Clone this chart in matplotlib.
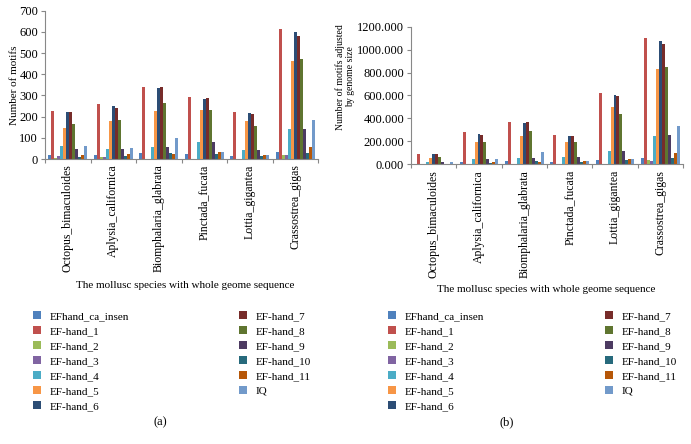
import matplotlib
matplotlib.use("Agg")
import matplotlib.pyplot as plt
from matplotlib.patches import Patch
import numpy as np

plt.rcParams['font.family'] = ['Liberation Serif', 'DejaVu Serif']

species = ["Octopus_bimaculoides", "Aplysia_californica", "Biomphalaria_glabrata",
           "Pinctada_fucata", "Lottia_gigantea", "Crassostrea_gigas"]
motifs = ["EFhand_ca_insen", "EF-hand_1", "EF-hand_2", "EF-hand_3", "EF-hand_4",
          "EF-hand_5", "EF-hand_6", "EF-hand_7", "EF-hand_8", "EF-hand_9",
          "EF-hand_10", "EF-hand_11", "IQ"]
colors = ["#4F81BD", "#C0504D", "#9BBB59", "#8064A2", "#4BACC6", "#F79646",
          "#2C4D75", "#772C2A", "#5F7530", "#4D3B62", "#276A7C", "#B65708", "#729ACA"]

# counts per motif, one value per species (panel a)
counts = {
    "EFhand_ca_insen": [20, 18, 30, 22, 12, 32],
    "EF-hand_1": [225, 258, 342, 292, 222, 612],
    "EF-hand_2": [5, 8, 2, 2, 2, 20],
    "EF-hand_3": [12, 10, 2, 2, 2, 18],
    "EF-hand_4": [60, 45, 55, 78, 42, 140],
    "EF-hand_5": [145, 180, 228, 230, 178, 462],
    "EF-hand_6": [224, 248, 333, 285, 215, 600],
    "EF-hand_7": [220, 240, 342, 290, 213, 580],
    "EF-hand_8": [165, 183, 265, 232, 157, 473],
    "EF-hand_9": [45, 48, 55, 80, 42, 143],
    "EF-hand_10": [8, 15, 30, 25, 12, 30],
    "EF-hand_11": [18, 22, 22, 33, 18, 58],
    "IQ": [60, 50, 97, 32, 18, 183],
}
# counts adjusted by genome size (panel b)
adjusted = {
    "EFhand_ca_insen": [3, 18, 30, 18, 38, 55],
    "EF-hand_1": [92, 278, 372, 252, 622, 1100],
    "EF-hand_2": [3, 5, 2, 2, 3, 35],
    "EF-hand_3": [3, 5, 2, 2, 3, 30],
    "EF-hand_4": [20, 48, 58, 65, 118, 250],
    "EF-hand_5": [58, 195, 250, 198, 500, 835],
    "EF-hand_6": [92, 265, 362, 245, 605, 1075],
    "EF-hand_7": [92, 258, 372, 250, 598, 1045],
    "EF-hand_8": [68, 195, 290, 198, 438, 850],
    "EF-hand_9": [18, 50, 58, 65, 118, 255],
    "EF-hand_10": [5, 15, 30, 20, 35, 55],
    "EF-hand_11": [5, 22, 22, 28, 45, 100],
    "IQ": [20, 50, 103, 28, 45, 330],
}

W, H = 691, 444
fig = plt.figure(figsize=(W / 100, H / 100), dpi=100)


def px_axes(x0, y0, x1, y1):
    return fig.add_axes([x0 / W, 1 - y1 / H, (x1 - x0) / W, (y1 - y0) / H])


def draw(ax, data, ymax, step, fmt):
    n = len(motifs)
    x = np.arange(len(species))
    bw = 0.86 / n
    for i, m in enumerate(motifs):
        ax.bar(x - 0.43 + bw * (i + 0.5), data[m], bw, color=colors[i], linewidth=0)
    ax.set_xlim(-0.5, len(species) - 0.5)
    ax.set_ylim(0, ymax)
    ax.set_yticks(np.arange(0, ymax + 1, step))
    ax.set_yticklabels([fmt(v) for v in np.arange(0, ymax + 1, step)], fontsize=9)
    ax.set_xticks(np.arange(-0.5, len(species)), minor=False)
    ax.set_xticklabels([])
    ax.set_xticks(x, minor=True)
    ax.set_xticklabels(species, minor=True, rotation=90, fontsize=8.5)
    ax.tick_params(axis='x', which='minor', length=0, pad=4)
    ax.tick_params(axis='x', which='major', length=3, color='#888888')
    ax.tick_params(axis='y', length=3, color='#888888', pad=2)
    for s in ['top', 'right']:
        ax.spines[s].set_visible(False)
    for s in ['left', 'bottom']:
        ax.spines[s].set_color('#888888')


ax1 = px_axes(45, 10.7, 318, 159)
draw(ax1, counts, 700, 100, lambda v: f"{int(v)}")
ax2 = px_axes(411, 26.7, 683, 164.3)
draw(ax2, adjusted, 1200, 200, lambda v: f"{v:.3f}")

fig.text(15 / W, 1 - 85 / H, "Number of motifs", rotation=90, ha='center', va='center', fontsize=8)
fig.text(345 / W, 1 - 77 / H, "Number of motifs adjusted\nby genome size", rotation=90,
         ha='center', va='center', multialignment='center', fontsize=7)

fig.text(185 / W, 1 - 286 / H, "The mollusc species with whole geome sequence",
         ha='center', va='center', fontsize=8)
fig.text(546 / W, 1 - 290 / H, "The mollusc species with whole geome sequence",
         ha='center', va='center', fontsize=8)

handles = [Patch(facecolor=c, edgecolor='none', label=m) for m, c in zip(motifs, colors)]
for x0, spacing in [(33, 9.9), (388, 10.9)]:
    fig.legend(handles=handles, loc='upper left', bbox_to_anchor=(x0 / W, 1 - 311 / H),
               ncol=2, frameon=False, fontsize=8, handlelength=0.7, handleheight=0.7,
               handletextpad=0.8, labelspacing=0.47, columnspacing=spacing, borderpad=0,
               borderaxespad=0)

fig.text(160 / W, 1 - 422 / H, "(a)", ha='center', va='center', fontsize=9)
fig.text(507 / W, 1 - 422 / H, "(b)", ha='center', va='center', fontsize=9)

fig.savefig("out.png", dpi=100)
